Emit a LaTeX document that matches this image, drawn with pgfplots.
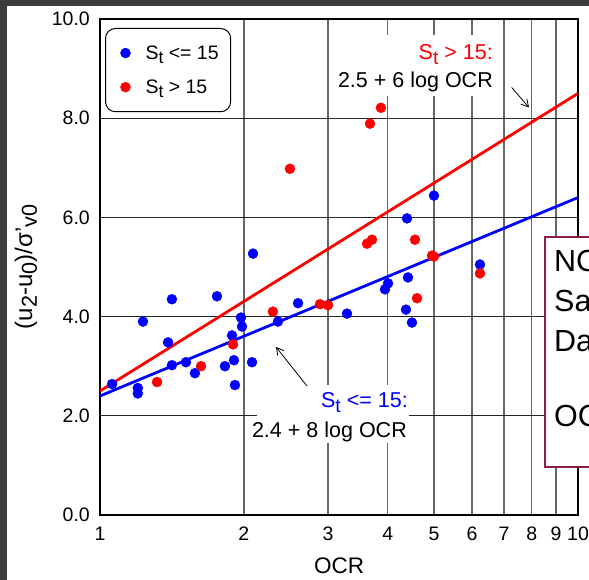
\documentclass[border=0pt]{standalone}
\usepackage{fontspec}
\setmainfont{Liberation Sans}
\usepackage{graphicx}
\usepackage{pgfplots}
\pgfplotsset{compat=1.18}
\usetikzlibrary{arrows.meta}
\definecolor{boxred}{RGB}{140,30,60}
\definecolor{framegray}{RGB}{60,60,60}
\newcommand\sub[1]{\raisebox{-0.2em}{\scalebox{0.9}{#1}}}
\newcommand\fs[1]{\fontsize{#1}{#1}\selectfont}
\begin{document}
\begin{tikzpicture}
\begin{axis}[
  at={(0pt,0pt)}, anchor=south west,
  width=478pt, height=496pt, scale only axis,
  xmode=log, log basis x=10, xmin=1, xmax=10, ymin=0, ymax=10,
  xtick={1,2,3,4,5,6,7,8,9,10}, xticklabels={1,2,3,4,5,6,7,8,9,10},
  ytick={0,2,4,6,8,10}, yticklabels={0.0,2.0,4.0,6.0,8.0,10.0},
  xminorticks=false, xminorgrids=false,
  major tick length=0pt,
  xmajorgrids=true, ymajorgrids=true,
  major x grid style={black!60, line width=1.3pt},
  major y grid style={black!85, line width=1pt},
  axis line style={black, line width=1.2pt},
  tick label style={font=\fs{19.5pt}},
  xticklabel style={anchor=north, inner sep=0pt, yshift=-12pt},
  yticklabel style={anchor=east, inner sep=0pt, xshift=-10pt},
  xlabel={OCR},
  ylabel={(u\sub{2}-u\sub{0})/σ'\sub{v0}},
  xlabel style={at={(axis description cs:0.5,-0.1028)}, anchor=center, font=\fs{22.5pt}, inner sep=0pt},
  ylabel style={at={(axis description cs:-0.1548,0.5)}, anchor=center, font=\fs{24pt}, inner sep=0pt},
  legend style={at={(axis description cs:0.01046,0.98185)}, anchor=north west, draw=black, line width=1pt,
    rounded corners=10pt, inner xsep=10pt, inner ysep=15pt, row sep=15pt, font=\fs{19.5pt}, fill=white},
  legend cell align=left,
  legend image code/.code={\path[draw=none, fill=none] (0pt,-5pt) rectangle (28pt,5pt); \draw[#1] plot coordinates {(10pt,0pt)};},
]
\addplot[red, line width=2.8pt, no markers, forget plot] coordinates {(1,2.5) (10,8.5)};
\addplot[blue, line width=2.8pt, no markers, forget plot] coordinates {(1,2.4) (10,6.4)};
\addplot[only marks, mark=*, mark size=5pt, blue, mark options={solid, line width=0.4pt, draw=blue, fill=blue}] coordinates {
(1.06,2.64) (1.20,2.56) (1.20,2.45) (1.23,3.90) (1.388,3.48) (1.414,4.35) (1.414,3.02)
(1.513,3.08) (1.58,2.86) (1.757,4.41) (1.826,3.00) (1.889,3.62) (1.907,3.12) (1.916,2.62)
(1.972,3.98) (1.982,3.80) (2.08,3.08) (2.09,5.27) (2.357,3.90) (2.596,4.27) (3.287,4.06)
(3.947,4.55) (4.005,4.67) (4.367,4.14) (4.388,5.98) (4.409,4.79) (4.494,3.88) (4.997,6.44)
(6.237,5.05)
};
\addlegendentry{S\sub{t} <= 15}
\addplot[only marks, mark=*, mark size=5pt, red, mark options={solid, line width=0.4pt, draw=red, fill=red}] coordinates {
(1.316,2.68) (1.627,3.00) (1.898,3.44) (2.30,4.10) (2.497,6.98) (2.886,4.25) (3.0,4.23)
(3.62,5.47) (3.707,5.55) (3.672,7.89) (3.87,8.21) (4.56,5.55) (4.605,4.37) (4.95,5.23)
(4.997,5.21) (6.237,4.87)
};
\addlegendentry{S\sub{t} > 15}
\end{axis}
% annotation boxes
\fill[white] (157pt,72pt) rectangle (309pt,130pt);
\node[anchor=base east, inner sep=0pt, text=blue, font=\fs{21.5pt}] at (308pt,107pt) {S\sub{t} <= 15:};
\node[anchor=base east, inner sep=0pt, font=\fs{21.5pt}] at (307pt,77pt) {2.4 + 8 log OCR};
\draw[line width=0.8pt, -{Straight Barb[length=7pt,width=8pt]}] (207pt,129pt) -- (176pt,168pt);
\fill[white] (237pt,419pt) rectangle (396pt,480pt);
\node[anchor=base east, inner sep=0pt, text=red, font=\fs{21.5pt}] at (393pt,455pt) {S\sub{t} > 15:};
\node[anchor=base east, inner sep=0pt, font=\fs{21.5pt}] at (393pt,427pt) {2.5 + 6 log OCR};
\draw[line width=0.8pt, -{Straight Barb[length=7pt,width=8pt]}] (411.7pt,427.5pt) -- (429pt,407.5pt);
% side box
\draw[boxred, line width=1.5pt, fill=white] (445pt,48pt) rectangle (620pt,278pt);
\node[anchor=base west, inner sep=0pt, font=\fs{30.5pt}] at (454pt,243pt) {NC};
\node[anchor=base west, inner sep=0pt, font=\fs{30.5pt}] at (454pt,203pt) {Sa};
\node[anchor=base west, inner sep=0pt, font=\fs{30.5pt}] at (454pt,163pt) {Da};
\node[anchor=base west, inner sep=0pt, font=\fs{30.5pt}] at (454pt,88pt) {OC};
% screenshot frame
\fill[framegray] (-100pt,508.5pt) rectangle (489pt,515pt);
\fill[framegray] (-100pt,-65pt) rectangle (-93pt,515pt);
\pgfresetboundingbox
\useasboundingbox (-100pt,-65pt) rectangle (489pt,515pt);
\end{tikzpicture}
\end{document}
